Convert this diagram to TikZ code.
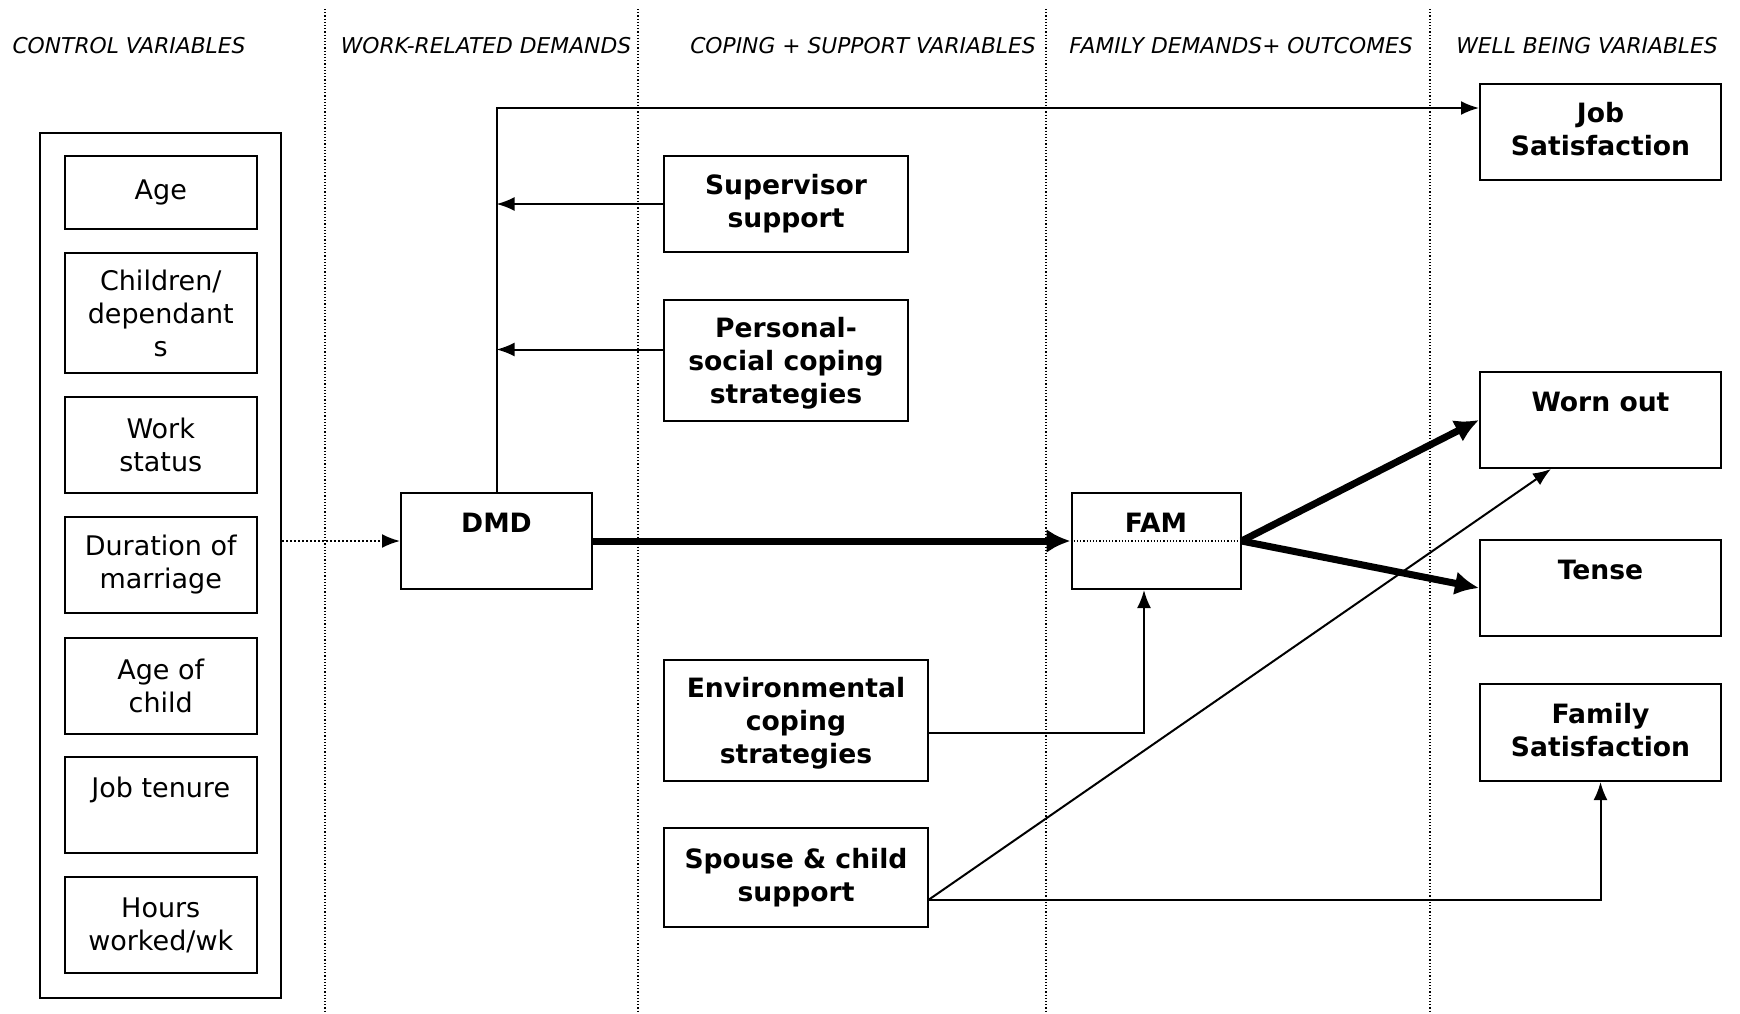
\documentclass[tikz,border=0pt]{standalone}
\usepackage{fontspec}
\setmainfont{DejaVu Sans}
\usetikzlibrary{arrows.meta}
\newcommand{\emptyline}{\\ \rule[-1.5pt]{0pt}{1.5pt}}
\newcommand{\deep}[2]{\raisebox{0pt}[\height][#1]{#2}}
\begin{document}
\begin{tikzpicture}[x=0.5pt, y=-0.5pt, line width=1pt,
    every node/.style={inner sep=0pt, align=center, font=\fontsize{13.5}{16.5}\selectfont},
    box/.style={draw, minimum width=96.25pt, minimum height=48pt},
    bbox/.style={draw, font=\fontsize{13.3}{16.5}\selectfont\bfseries},
    head/.style={font=\fontsize{10.9}{13}\selectfont\itshape},
    sep/.style={line width=0.6pt, densely dotted},
    link/.style={-{Latex[length=9pt,width=7pt]}},
    heavy/.style={line width=3.5pt, -{Latex[length=12pt,width=12pt]}}]
  \useasboundingbox (0,0) rectangle (1740,1013);
  % column headings and dividers
  \node [head] (h1) at (129,46) {CONTROL VARIABLES};
  \node [head] (h2) at (486,46) {WORK-RELATED DEMANDS};
  \node [head] (h3) at (863,46) {COPING + SUPPORT VARIABLES};
  \node [head] (h4) at (1241,46) {FAMILY DEMANDS+ OUTCOMES};
  \node [head] (h5) at (1587,46) {WELL BEING VARIABLES};
  \draw [sep] (325,9) -- (325,1013);
  \draw [sep] (638,9) -- (638,1013);
  \draw [sep] (1046,9) -- (1046,1013);
  \draw [sep] (1430,9) -- (1430,1013);
  % control variables
  \node [draw, minimum width=120.5pt, minimum height=432.5pt] (ctrl) at (160.5,565.5) {};
  \node [box, minimum height=36.5pt] (age) at (160.75,192.5) {Age};
  \node [box, minimum height=60pt] (child) at (160.75,313) {Children/\\dependant\\s};
  \node [box] (work) at (160.75,445) {Work\\status};
  \node [box] (dur) at (160.75,565) {Duration of\\marriage};
  \node [box] (agech) at (160.75,685.5) {Age of\\child};
  \node [box] (tenure) at (160.75,805) {Job tenure\emptyline};
  \node [box] (hours) at (160.75,925) {Hours\\worked/wk};
  % demands, coping and outcomes
  \node [bbox, minimum width=95.5pt, minimum height=48pt] (dmd) at (496.5,541) {DMD\emptyline};
  \node [bbox, minimum width=122pt, minimum height=48pt] (sup) at (786,204) {Supervisor\\support};
  \node [bbox, minimum width=122pt, minimum height=60.5pt] (pers) at (786,360.5) {Personal-\\social coping\\\deep{-2pt}{strategies}};
  \node [bbox, minimum width=132pt, minimum height=60.5pt] (env) at (796,720.5) {Environmental\\coping\\\deep{-2.5pt}{strategies}};
  \node [bbox, minimum width=132pt, minimum height=49.5pt] (spouse) at (796,877.5) {Spouse \& child\\support};
  \node [bbox, minimum width=84.5pt, minimum height=48pt] (fam) at (1156,541) {FAM\emptyline};
  \node [bbox, minimum width=120.5pt, minimum height=48pt] (jobsat) at (1600.5,132) {Job\\\deep{3.4pt}{Satisfaction}};
  \node [bbox, minimum width=120.5pt, minimum height=48pt] (worn) at (1600.5,420) {Worn out\emptyline};
  \node [bbox, minimum width=120.5pt, minimum height=48pt] (tense) at (1600.5,588) {Tense\emptyline};
  \node [bbox, minimum width=120.5pt, minimum height=48.5pt] (famsat) at (1600.5,732.5) {Family\\\deep{2.2pt}{Satisfaction}};
  % connectors
  \coordinate (bend) at (496.5,108);
  \coordinate (sp) at ([yshift=-11pt]spouse.east);
  \draw [link] (dmd.north) -- (bend) -- (jobsat.west |- bend);
  \draw [link] (sup.west) -- (sup.west -| dmd.north);
  \draw [link] ([yshift=5.5pt]pers.west) -- ([yshift=5.5pt]pers.west -| dmd.north);
  \draw [link, densely dotted] (ctrl.east |- dmd.west) -- (dmd.west);
  \draw [heavy] (dmd.east) -- (fam.west);
  \draw [line width=0.6pt, densely dotted] (fam.west) -- (fam.east);
  \draw [heavy] (fam.east) -- (worn.west);
  \draw [heavy] (fam.east) -- (tense.west);
  \draw [link] ([yshift=-6pt]env.east) -| ([xshift=-6pt]fam.south);
  \draw [link] (sp) -- ([xshift=-24.75pt]worn.south);
  \draw [link] (sp) -| (famsat.south);
\end{tikzpicture}
\end{document}
